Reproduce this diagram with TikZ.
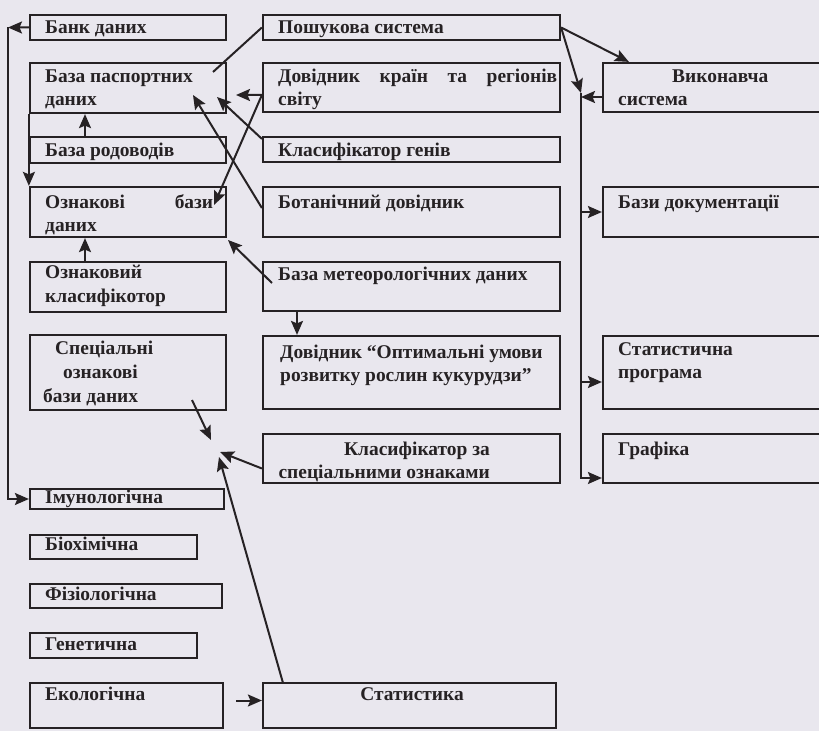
\documentclass[tikz,border=0pt]{standalone}
\usepackage{fontspec}
\setmainfont{Liberation Serif}
\usetikzlibrary{arrows.meta,fit,calc}
\definecolor{ink}{RGB}{38,34,36}
\definecolor{paper}{RGB}{233,231,238}
\newcommand\mkbox[5]{\path (#2,#3) coordinate (#1-a) (#4,#5) coordinate (#1-b);
  \node[bx, fit=(#1-a)(#1-b)] (#1) {};}
\begin{document}
\begin{tikzpicture}[x=1bp,y=-1bp,
  bx/.style={draw=ink, line width=2.2bp, inner sep=0pt, rectangle},
  lbl/.style={anchor=base west, inner sep=0pt, text=ink, font=\bfseries\fontsize{19.5}{23}\selectfont},
  ln/.style={draw=ink, line width=2bp},
  arr/.style={draw=ink, line width=2bp, -{Stealth[length=14bp,width=12bp,inset=2.5bp]}}]
\useasboundingbox (0,0) rectangle (819,731);
\clip (0,0) rectangle (819,731);
\fill[paper] (0,0) rectangle (819,731);

% left column
\mkbox{bank}{30}{15}{226}{40}
\mkbox{pasp}{30}{63}{226}{113}
\mkbox{rodov}{30}{137}{226}{163}
\mkbox{oznb}{30}{187}{226}{237}
\mkbox{oznk}{30}{262}{226}{312}
\mkbox{spec}{30}{335}{226}{410}
\mkbox{imun}{30}{489}{224}{509}
\mkbox{bioh}{30}{535}{197}{559}
\mkbox{fiz}{30}{584}{222}{608}
\mkbox{gen}{30}{633}{197}{658}
\mkbox{ekol}{30}{683}{223}{728}
% middle column
\mkbox{poshuk}{263}{15}{560}{40}
\mkbox{dovkr}{263}{63}{560}{112}
\mkbox{klgen}{263}{137}{560}{162}
\mkbox{botan}{263}{187}{560}{237}
\mkbox{meteo}{263}{262}{560}{311}
\mkbox{dovopt}{263}{336}{560}{409}
\mkbox{klspec}{263}{434}{560}{483}
\mkbox{stat}{263}{683}{556}{728}
% right column
\mkbox{vyk}{603}{63}{840}{112}
\mkbox{bazdoc}{603}{187}{840}{237}
\mkbox{statpr}{603}{336}{840}{409}
\mkbox{graf}{603}{434}{840}{483}

% texts
\node[lbl] (t-bank) at (45,33.5) {Банк даних};
\node[lbl] (t-pasp1) at (45,83) {База паспортних};
\node[lbl] (t-pasp2) at (45,106) {даних};
\node[lbl] (t-rodov) at (45,157) {База родоводів};
\node[lbl] (t-oznb1) at (45,208) {\makebox[168bp][s]{Ознакові\hfill бази}};
\node[lbl] (t-oznb2) at (45,231) {даних};
\node[lbl] (t-oznk1) at (45,278) {Ознаковий};
\node[lbl] (t-oznk2) at (45,302) {класифікотор};
\node[lbl] (t-spec1) at (55,354) {Спеціальні};
\node[lbl] (t-spec2) at (63,378) {ознакові};
\node[lbl] (t-spec3) at (43,402) {бази даних};
\node[lbl] (t-imun) at (45,503) {Імунологічна};
\node[lbl] (t-bioh) at (45,550) {Біохімічна};
\node[lbl] (t-fiz) at (45,600) {Фізіологічна};
\node[lbl] (t-gen) at (45,650) {Генетична};
\node[lbl] (t-ekol) at (45,700) {Екологічна};

\node[lbl] (t-poshuk) at (278,33.5) {Пошукова система};
\node[lbl] (t-dovkr1) at (278,83) {\makebox[279bp][s]{Довідник\hfill країн\hfill та\hfill регіонів}};
\node[lbl] (t-dovkr2) at (278,106) {світу};
\node[lbl] (t-klgen) at (278,157) {Класифікатор генів};
\node[lbl] (t-botan) at (278,208) {Ботанічний довідник};
\node[lbl] (t-meteo) at (278,280) {База метеорологічних даних};
\node[lbl] (t-dovopt1) at (280,358) {Довідник “Оптимальні умови};
\node[lbl] (t-dovopt2) at (280,381) {розвитку рослин кукурудзи”};
\node[lbl, anchor=base east] (t-klspec1) at (490,455) {Класифікатор за};
\node[lbl, anchor=base east] (t-klspec2) at (490,478) {спеціальними ознаками};
\node[lbl, anchor=base] (t-stat) at (412,700) {Статистика};

\node[lbl] (t-vyk1) at (672,83) {Виконавча};
\node[lbl] (t-vyk2) at (618,106) {система};
\node[lbl] (t-bazdoc) at (618,208) {Бази документації};
\node[lbl] (t-statpr1) at (618,355) {Статистична};
\node[lbl] (t-statpr2) at (618,378) {програма};
\node[lbl] (t-graf) at (618,455) {Графіка};

% left connectors
\coordinate (L1) at (8,27.5);
\coordinate (L2) at (8,499);
\draw[arr] (bank.west) -- (L1);
\draw[arr] (L1) -- (L2) -- (imun.west);
\draw[arr] (pasp.south west) -- (oznb.north west);
\coordinate (R1) at (85,137);
\draw[arr] (R1) -- (R1 |- pasp.south);
\coordinate (K1) at (85,262);
\draw[arr] (K1) -- (K1 |- oznb.south);

% middle crossing connectors
\coordinate (P1) at (213,72);
\draw[ln] (poshuk.west) -- (P1);
\coordinate (Dt) at (236,95);
\coordinate (O1) at (214,205);
\draw[arr] ([yshift=-7.5bp]dovkr.west) -- (Dt);
\draw[arr] ([yshift=-7.5bp]dovkr.west) -- (O1);
\coordinate (Pa) at (217,97);
\draw[arr] ([yshift=-3bp]klgen.north west) -- (Pa);
\coordinate (Pb) at (193,95);
\draw[arr] ([yshift=4bp]botan.west) -- (Pb);
\coordinate (M0) at (272,283);
\coordinate (Mt) at (228,240);
\draw[arr] (M0) -- (Mt);
\coordinate (M1) at (297,311);
\draw[arr] (M1) -- (M1 |- dovopt.north);

% bottom converging connectors
\coordinate (S0) at (192,400);
\coordinate (J1) at (211,440);
\draw[arr] (S0) -- (J1);
\coordinate (J2) at (220,452);
\draw[arr] ([yshift=-10bp]klspec.west) -- (J2);
\coordinate (St0) at (283,683);
\coordinate (J3) at (219,457);
\draw[arr] (St0) -- (J3);
\draw[arr] ([xshift=12bp,yshift=5bp]ekol.east) -- ([yshift=5bp]stat.west);

% right connectors
\coordinate (B0) at (581,93);
\coordinate (B1) at (581,478);
\draw[arr] (poshuk.east) -- (B0);
\draw[arr] (poshuk.east) -- ([xshift=27bp]vyk.north west);
\coordinate (Vy) at (603,97);
\draw[arr] (Vy) -- (Vy -| B0);
\draw[arr] (B0) -- (B1) -- (B1 -| graf.west);
\coordinate (Bd) at (581,212);
\draw[arr] (Bd) -- (Bd -| bazdoc.west);
\coordinate (Bs) at (581,382);
\draw[arr] (Bs) -- (Bs -| statpr.west);
\end{tikzpicture}
\end{document}
